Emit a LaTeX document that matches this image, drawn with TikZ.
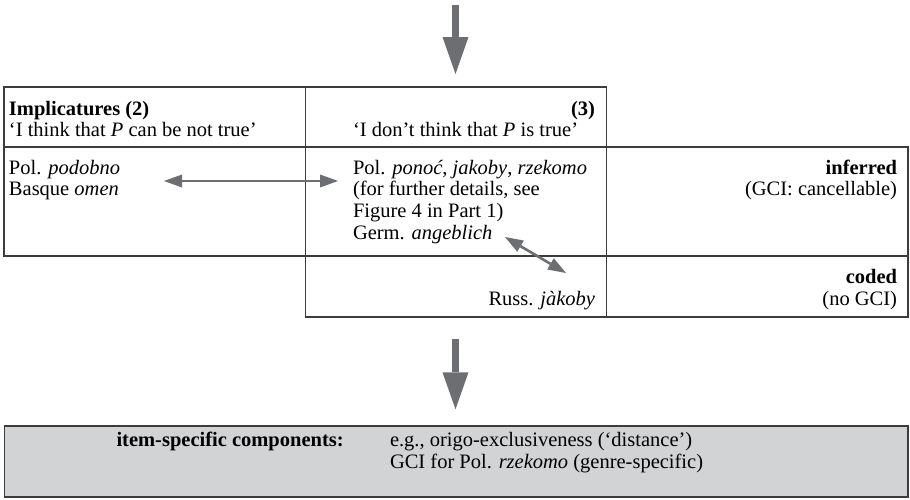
\documentclass[tikz,border=0pt]{standalone}
\usepackage{fontspec}
\setmainfont{Liberation Serif}
\usetikzlibrary{arrows.meta}
\definecolor{arrowgrey}{HTML}{6D6E71}
\definecolor{linegrey}{HTML}{3C3C3C}
\definecolor{boxfill}{HTML}{D1D3D4}
\begin{document}
\begin{tikzpicture}[x=1pt,y=-1pt,
  every node/.style={inner sep=0pt, outer sep=0pt},
  txt/.style={font=\fontsize{20.5}{21.5}\selectfont},
  lt/.style={txt, anchor=base west},
  rt/.style={txt, anchor=base east},
  cell/.style={draw=linegrey, line width=1.1pt, rectangle, anchor=north west},
  bigarrow/.style={draw=arrowgrey, line width=7.6pt, -{Triangle[length=37pt,width=26pt,line width=0pt]}},
  dblarrow/.style={draw=arrowgrey, line width=2.6pt, {Triangle[length=18pt,width=13pt,line width=0pt]}-{Triangle[length=18pt,width=13pt,line width=0pt]}},
]
\useasboundingbox (0,0) rectangle (910,499);

% cells
\node[cell, minimum width=301.5pt, minimum height=60pt]  (h1) at (4,87) {};
\node[cell, minimum width=301pt,   minimum height=60pt]  (h2) at (305.5,87) {};
\node[cell, minimum width=301.5pt, minimum height=109pt] (r1) at (4,147) {};
\node[cell, minimum width=301pt,   minimum height=109pt] (r2) at (305.5,147) {};
\node[cell, minimum width=301.5pt, minimum height=109pt] (r3) at (606.5,147) {};
\node[cell, minimum width=301pt,   minimum height=61pt]  (s2) at (305.5,256) {};
\node[cell, minimum width=301.5pt, minimum height=61pt]  (s3) at (606.5,256) {};
\node[cell, fill=boxfill, minimum width=903.5pt, minimum height=71pt] (box) at (4.5,426) {};

% header texts
\node[lt] (hA) at (9,115) {\textbf{Implicatures (2)}};
\node[lt] (hB) at (9,136.5) {‘I think that \textit{P} can be not true’};
\node[rt] (hC) at (595,115) {\textbf{(3)}};
\node[lt] (hD) at (353,136.5) {‘I don’t think that \textit{P} is true’};

% row 2
\node[lt] (lA) at (9,174) {Pol. \textit{podobno}};
\node[lt] (lB) at (9,195.7) {Basque \textit{omen}};
\node[lt] (mA) at (353,174) {Pol. \textit{ponoć}, \textit{jakoby}, \textit{rzekomo}};
\node[lt] (mB) at (353,195.7) {(for further details, see};
\node[lt] (mC) at (353,217.3) {Figure 4 in Part 1)};
\node[lt] (mD) at (353,239) {Germ. \textit{angeblich}};
\node[rt] (rA) at (897,174) {\textbf{inferred}};
\node[rt] (rB) at (897,195.7) {(GCI: cancellable)};

% row 3
\node[rt] (cA) at (897,283.5) {\textbf{coded}};
\node[rt] (cB) at (897,305) {(no GCI)};
\node[rt] (cC) at (595,305) {Russ. \textit{jàkoby}};

% box texts
\node[lt] (bA) at (116.5,446.5) {\textbf{item-specific components:}};
\node[lt] (bB) at (390,446.5) {e.g., origo-exclusiveness (‘distance’)};
\node[lt] (bC) at (390,468) {GCI for Pol. \textit{rzekomo} (genre-specific)};

% arrows
\coordinate (t0) at (455.5,4.7);
\coordinate (t1) at (455.5,74);
\coordinate (u0) at (455.5,339.3);
\coordinate (u1) at (455.5,409.3);
\draw[bigarrow] (t0) -- (t1);
\draw[bigarrow] (u0) -- (u1);

\coordinate (d0) at (164,181);
\coordinate (d1) at (338,181);
\draw[dblarrow] (d0) -- (d1);
\coordinate (e0) at (505,237);
\coordinate (e1) at (566,273);
\draw[dblarrow] (e0) -- (e1);
\end{tikzpicture}
\end{document}
